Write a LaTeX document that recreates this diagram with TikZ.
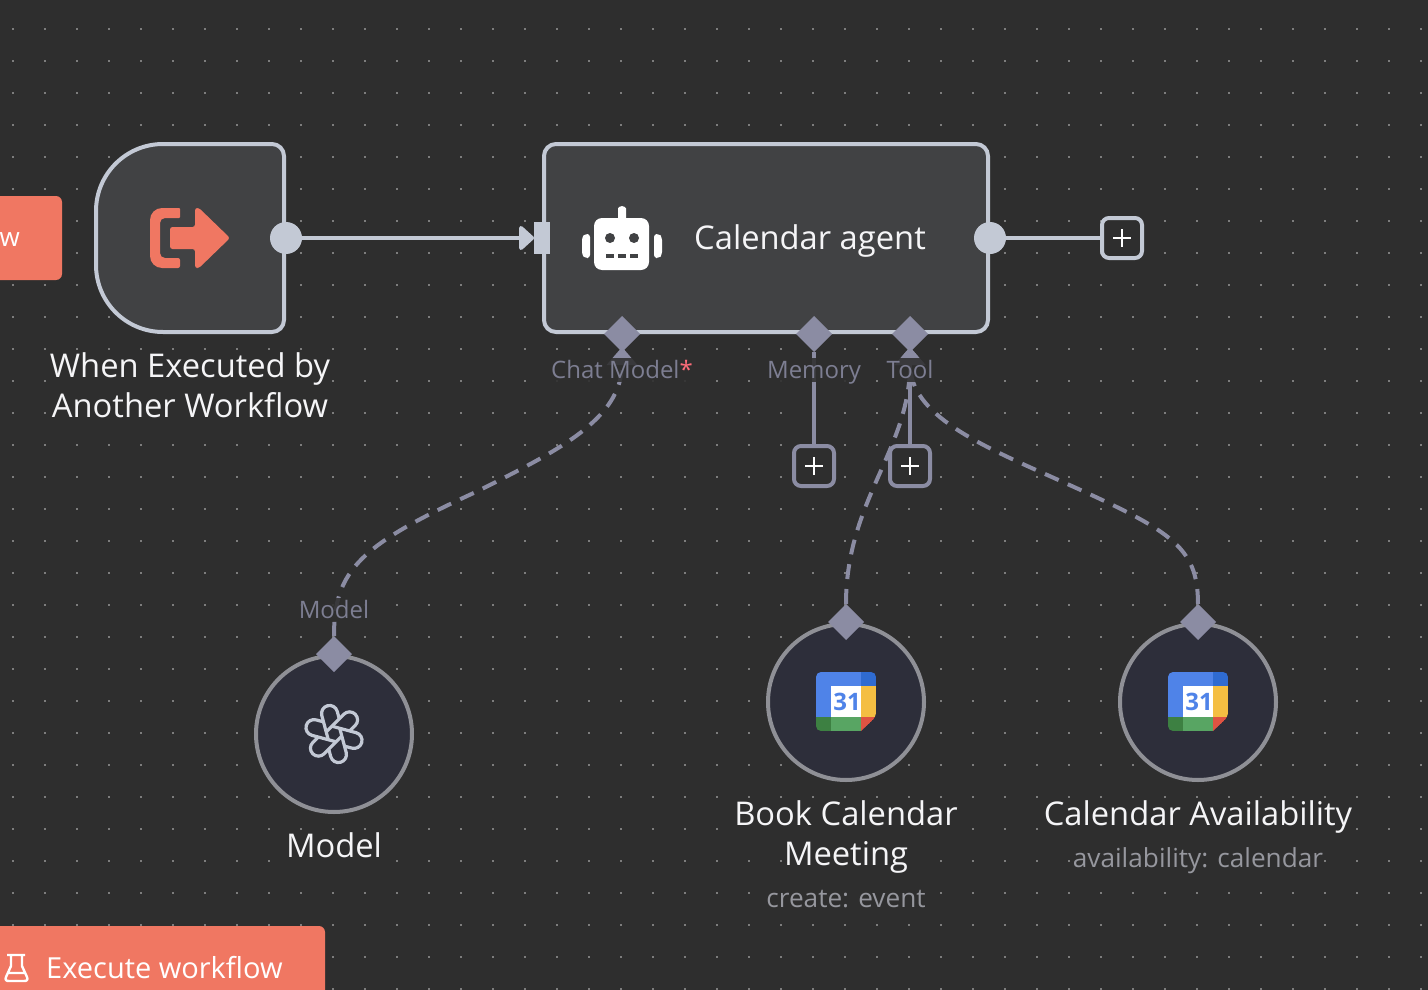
\documentclass[tikz,border=0pt]{standalone}
\usepackage{fontspec}
\setmainfont{Open Sans}
\usetikzlibrary{arrows.meta}
\usetikzlibrary{shapes.geometric}
\usetikzlibrary{math}
\definecolor{qbg}{RGB}{46,46,46}
\definecolor{qdot}{RGB}{125,125,125}
\definecolor{qbox}{RGB}{65,66,68}
\definecolor{qline}{RGB}{195,201,213}
\definecolor{qport}{RGB}{139,140,163}
\definecolor{qlabel}{RGB}{125,126,146}
\definecolor{qcoral}{RGB}{240,119,98}
\definecolor{qcirc}{RGB}{45,46,58}
\definecolor{qring}{RGB}{143,144,150}
\definecolor{qtext}{RGB}{245,245,247}
\definecolor{qsub}{RGB}{150,151,158}
\definecolor{qstar}{RGB}{255,109,122}
\definecolor{qgblue}{RGB}{79,131,232}
\definecolor{qgdblue}{RGB}{47,107,209}
\definecolor{qgyellow}{RGB}{244,190,66}
\definecolor{qggreen}{RGB}{88,165,99}
\definecolor{qgdgreen}{RGB}{61,128,66}
\definecolor{qgred}{RGB}{222,83,66}
\newcommand{\calicon}[2]{
\begin{scope}[shift={(#1,#2)}]
\begin{scope}
\clip[rounded corners=5pt] (0,0) -- (60,0) -- (60,45) [sharp corners] -- (45,59) [rounded corners=5pt] -- (0,59) -- cycle;
\fill[qgblue] (0,0) rectangle (45,45);
\fill[qgdblue] (45,0) rectangle (60,14);
\fill[qgyellow] (45,14) rectangle (60,45);
\fill[qgdgreen] (0,45) rectangle (15,59);
\fill[qggreen] (15,45) rectangle (45,59);
\fill[qgred] (45,45) -- (60,45) -- (45,59) -- cycle;
\fill[white] (15,14) rectangle (45,45);
\end{scope}
\end{scope}
}
\begin{document}
\begin{tikzpicture}[x=1pt,y=-1pt,
circnode/.style={circle,draw=qring,fill=qcirc,line width=4pt,minimum size=156pt,inner sep=0},
port/.style={diamond,fill=qport,minimum size=36pt,inner sep=0,outer sep=0},
outport/.style={circle,fill=qline,minimum size=32pt,inner sep=0,outer sep=0},
plusbox/.style={draw=qport,fill=qbg,line width=4pt,rounded corners=7pt,minimum size=40pt,inner sep=0,outer sep=0},
slot/.style={fill=qbg,fill opacity=0.88,text opacity=1,text=qlabel,font=\fontsize{24}{26}\selectfont,inner xsep=1pt,inner ysep=1pt,text height=19pt,text depth=3pt},
title/.style={fill=qbg,text opacity=1,text=qtext,font=\fontsize{32.7}{36}\selectfont,inner xsep=2pt,inner ysep=0pt,text height=27pt,text depth=4pt},
subtitle/.style={fill=qbg,text=qsub,font=\fontsize{26.2}{30}\selectfont,inner xsep=1pt,inner ysep=0pt,text height=22pt,text depth=3pt},
btn/.style={fill=qcoral,rounded corners=6pt,inner sep=0},
wire/.style={qport,line width=4pt},
dashwire/.style={qport,line width=4pt,dash pattern=on 15pt off 10pt,shorten >=-5pt,-{Triangle[length=18pt,width=30pt,sep=0pt]}},
]
\path[use as bounding box,clip] (0,0) rectangle (1428,990);
\fill[qbg] (0,0) rectangle (1428,990);

\foreach \i in {0,...,44}
\foreach \j in {0,...,30}
\fill[qdot] (12.2+32*\i,28.2+32*\j) rectangle +(1.7,1.7);

% trigger
\draw[qline,fill=qbox,line width=4pt] (163,144) -- (272,144) arc (270:360:12) -- (284,320) arc (0:90:12) -- (163,332) arc (90:180:67) -- (96,211) arc (180:270:67) -- cycle;
\fill[qcoral,rounded corners=2pt] (180,208) [rounded corners=12pt] -- (150,208) -- (150,268) [rounded corners=2pt] -- (180,268) -- (180,258) [rounded corners=5pt] -- (160,258) -- (160,218) [rounded corners=1pt] -- (180,218) -- cycle;
\fill[qcoral,rounded corners=2.5pt] (170,227) -- (195,227) -- (195,208) -- (199,208) -- (230,238) -- (199,268) -- (195,268) -- (195,249) -- (170,249) -- cycle;
\node[outport] (trigOut) at (286,238) {};

% agent
\node[draw=qline,fill=qbox,line width=4pt,rounded corners=12pt,minimum width=444pt,minimum height=188pt,inner sep=0] (agent) at (766,238) {};
\node[fill=qline,minimum width=16pt,minimum height=32pt,inner sep=0,outer sep=0] (agentIn) at (542,238) {};
\node[outport] (agentOut) at (990,238) {};
\node[text=qtext,font=\fontsize{32.7}{36}\selectfont,inner sep=0] (agentName) at (810,241) {Calendar agent};

% robot
\fill[white,rounded corners=1.5pt] (618,222) -- (618,210) arc (180:360:4) -- (626,222) -- cycle;
\fill[white,rounded corners=8pt] (594,218) rectangle (649,270);
\fill[white,rounded corners=3pt] (590,234) -- (590,258) -- (585,258) -- (582,255) -- (582,237) -- (585,234) -- cycle;
\fill[white,rounded corners=3pt] (654,234) -- (654,258) -- (659,258) -- (662,255) -- (662,237) -- (659,234) -- cycle;
\fill[qbox] (610,238) circle (5) (634,238) circle (5);
\foreach \mx in {606,618,630}
\fill[qbox] (\mx,254) rectangle +(8,4);

% ports
\node[port] (chatPort) at (622,334) {};
\node[port] (memPort) at (814,334) {};
\node[port] (toolPort) at (910,334) {};
\node[plusbox] (memPlus) at (814,466) {};
\node[plusbox] (toolPlus) at (910,466) {};
\node[plusbox,draw=qline] (outPlus) at (1122,238) {};
\foreach \n in {memPlus,toolPlus,outPlus}
\draw[white,line width=2pt] (\n.center) +(-9,0) -- +(9,0) (\n.center) +(0,-9) -- +(0,9);

% sub nodes
\node[circnode] (model) at (334,734) {};
\node[circnode] (book) at (846,702) {};
\node[circnode] (avail) at (1198,702) {};
\node[port] (modelPort) at (334,654) {};
\node[port] (bookPort) at (846,622) {};
\node[port] (availPort) at (1198,622) {};

% knot
\foreach \a in {15,75,...,315}{
\begin{scope}[shift={(334,734)},rotate=\a]
\draw[qline,line width=3.2pt] (-7,4) -- (-7,-21) arc (180:360:8) -- (9,-13.3);
\end{scope}
}

\calicon{816}{672}
\calicon{1168}{672}
\node[text=qgblue,font=\bfseries\fontsize{24}{24}\selectfont,inner sep=0] (bookDate) at (847,702) {31};
\node[text=qgblue,font=\bfseries\fontsize{24}{24}\selectfont,inner sep=0] (availDate) at (1199,702) {31};

% connectors
\draw[qline,line width=4pt,-{Triangle[length=16pt,width=28pt,round]}] (trigOut) -- (agentIn);
\draw[qline,line width=4pt] (agentOut) -- (outPlus);
\draw[wire] (memPort) -- (memPlus);
\draw[wire] (toolPort) -- (toolPlus);
\draw[dashwire] (modelPort.north) .. controls (334,570) and (360,545) .. (478,491) .. controls (555,452) and (622,420) .. (chatPort.south);
\draw[dashwire] (bookPort.north) .. controls (846,500) and (910,450) .. (toolPort.south);
\draw[dashwire] (availPort.north) .. controls (1198,545) and (1170,530) .. (1054,478) .. controls (980,445) and (910,415) .. (toolPort.south);

% slot labels
\node[slot] (chatLabel) at (622,370) {Chat Model\textcolor{qstar}{*}};
\node[slot] (memLabel) at (814,370) {Memory};
\node[slot] (toolLabel) at (910,370) {Tool};
\node[slot] (modelLabel) at (334,610) {Model};

% names
\node[title] (trigName) at (190,366) {When Executed by};
\node[title] (trigNameb) at (190,406) {Another Workflow};
\node[title] (modelName) at (334,846) {Model};
\node[title] (bookName) at (846,814) {Book Calendar};
\node[title] (bookNameb) at (846,854) {Meeting};
\node[title] (availName) at (1198,814) {Calendar Availability};
\node[subtitle] (bookSub) at (846,898) {create: event};
\node[subtitle] (availSub) at (1198,858) {availability: calendar};

% buttons
\node[btn,minimum width=102pt,minimum height=84pt] (topBtn) at (11,238) {};
\node[text=white,font=\fontsize{26}{30}\selectfont,inner sep=0,anchor=east] (topBtnText) at (20,240) {w};
\node[btn,minimum width=345pt,minimum height=100pt] (execBtn) at (152.5,976) {};
\node[text=white,font=\fontsize{29}{32}\selectfont,inner sep=0,anchor=west] (execText) at (46,968) {Execute workflow};
\draw[white,line width=2.4pt,line join=round] (7,955) -- (25,955) (11,955) -- (11,966) -- (6,977) .. controls (5,980) and (6,981) .. (9,981) -- (24,981) .. controls (27,981) and (28,980) .. (27,977) -- (22,966) -- (22,955) (8,973) -- (25,973);
\end{tikzpicture}
\end{document}
